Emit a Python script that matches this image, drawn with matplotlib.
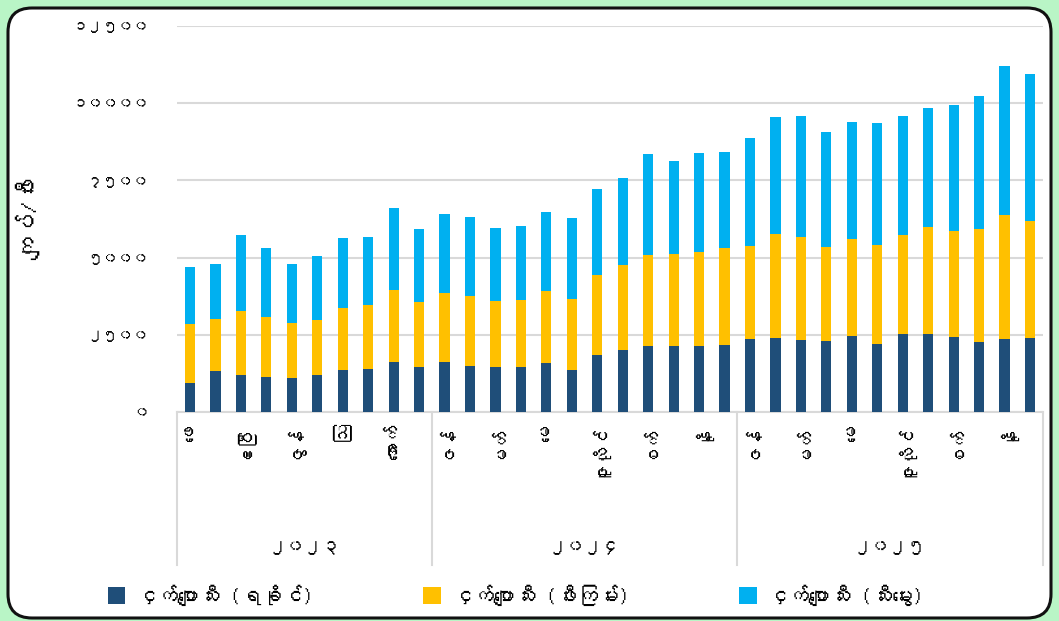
import matplotlib
matplotlib.use("Agg")
import matplotlib.pyplot as plt
import numpy as np
from matplotlib import font_manager
from matplotlib.ft2font import FT2Font
from matplotlib.patches import FancyBboxPatch, Patch
from matplotlib.transforms import IdentityTransform, blended_transform_factory


# price per hand of bananas (kyat), Feb 2023 - Dec 2025
years = ['၂၀၂၃', '၂၀၂၄', '၂၀၂၅']
months_2023 = ['ဖေ', 'မတ်', 'ဧပြီ', 'မေ', 'ဇွန်', 'ဇူလိုင်', 'ဩ', 'စက်', 'အောက်', 'နို']
months_full = ['ဇန်', 'ဖေ', 'မတ်', 'ဧပြီ', 'မေ', 'ဇွန်', 'ဇူလိုင်', 'ဩ', 'စက်',
               'အောက်', 'နို', 'ဒီ']
series_names = ['ငှက်ပျောသီး (ရခိုင်)', 'ငှက်ပျောသီး (ဖီးကြမ်း)', 'ငှက်ပျောသီး (သီးမွေး)']

rakhine = [960, 1330, 1210, 1150, 1100, 1210, 1370, 1390, 1630, 1470,
           1640, 1510, 1470, 1480, 1590, 1370, 1850, 2010, 2140, 2140, 2140, 2190,
           2360, 2410, 2350, 2310, 2460, 2210, 2530, 2530, 2450, 2270, 2380, 2400]
phee_kyan = [1890, 1680, 2050, 1930, 1790, 1760, 2000, 2070, 2330, 2100,
             2220, 2260, 2130, 2150, 2330, 2300, 2590, 2750, 2940, 2980, 3040, 3120,
             3020, 3350, 3320, 3040, 3160, 3200, 3200, 3450, 3410, 3650, 4000, 3780]
thee_mwe = [1840, 1770, 2480, 2220, 1910, 2070, 2270, 2210, 2650, 2360,
            2560, 2540, 2360, 2380, 2560, 2620, 2780, 2810, 3270, 3010, 3190, 3100,
            3480, 3780, 3910, 3700, 3770, 3950, 3840, 3860, 4090, 4320, 4820, 4750]

colors = ['#1f4e79', '#ffc000', '#00b0f0']
y_ticks = [0, 2500, 5000, 7500, 10000, 12500]
y_label = 'ကျပ်/ဖီး'


def find_myanmar_font():
    for f in font_manager.fontManager.ttflist:
        try:
            cmap = FT2Font(f.fname).get_charmap()
        except Exception:
            continue
        if 0x1000 in cmap and 0x1039 in cmap:
            return f.name
    return None


mm_font = find_myanmar_font()
plt.rcParams['font.family'] = [mm_font, 'DejaVu Sans'] if mm_font else ['DejaVu Sans']

to_mm = str.maketrans('0123456789', '၀၁၂၃၄၅၆၇၈၉')

months = months_2023 + months_full + months_full
group_sizes = [len(months_2023), len(months_full), len(months_full)]
x = np.arange(len(months))

fig = plt.figure(figsize=(10.59, 6.21), dpi=100)
fig.patch.set_facecolor('#b9f5c6')
panel = FancyBboxPatch((8, 3), 1043, 610, boxstyle='round,pad=0,rounding_size=24',
                       transform=IdentityTransform(), facecolor='white',
                       edgecolor='#111111', linewidth=2.2, zorder=-10)
fig.patches.append(panel)

ax = fig.add_axes([0.1674, 0.3361, 0.8172, 0.6224])
ax.set_facecolor('none')

bottom = np.zeros(len(x))
handles = []
for vals, col, name in zip([rakhine, phee_kyan, thee_mwe], colors, series_names):
    ax.bar(x, vals, width=0.4, bottom=bottom, color=col, edgecolor='none', zorder=3)
    bottom += np.array(vals)
    handles.append(Patch(facecolor=col, label=name))

ax.set_xlim(-0.5, len(x) - 0.5)
ax.set_ylim(0, 12500)
ax.set_yticks(y_ticks)
ax.set_yticklabels([str(v).translate(to_mm) for v in y_ticks], fontsize=11)
ax.yaxis.grid(True, color='#d9d9d9', linewidth=1.5, zorder=0)
ax.tick_params(axis='y', length=0, pad=21)
ax.set_ylabel(y_label, fontsize=17)
ax.yaxis.set_label_coords(-0.159, 0.5)

for s in ['top', 'right', 'left']:
    ax.spines[s].set_visible(False)
ax.spines['bottom'].set_color('#d9d9d9')
ax.spines['bottom'].set_linewidth(1.5)

ax.set_xticks(x[::2])
ax.set_xticklabels(months[::2], rotation=90, fontsize=13, va='top')
ax.tick_params(axis='x', length=0, pad=8)

# year level of the category axis
trans = blended_transform_factory(ax.transData, ax.transAxes)
edges = np.concatenate([[0], np.cumsum(group_sizes)]) - 0.5
for e in edges:
    ax.plot([e, e], [0, -0.395], transform=trans, color='#d9d9d9',
            linewidth=1.5, clip_on=False)
for i, yr in enumerate(years):
    ax.text((edges[i] + edges[i + 1]) / 2, -0.352, yr, transform=trans,
            ha='center', va='center', fontsize=13)

fig.legend(handles=handles, loc='center', bbox_to_anchor=(0.487, 0.042), ncol=3,
           frameon=False, fontsize=15, handlelength=0.85, handleheight=0.85,
           columnspacing=5.3, handletextpad=0.5)

fig.savefig('out.png', dpi=100, facecolor=fig.get_facecolor())
